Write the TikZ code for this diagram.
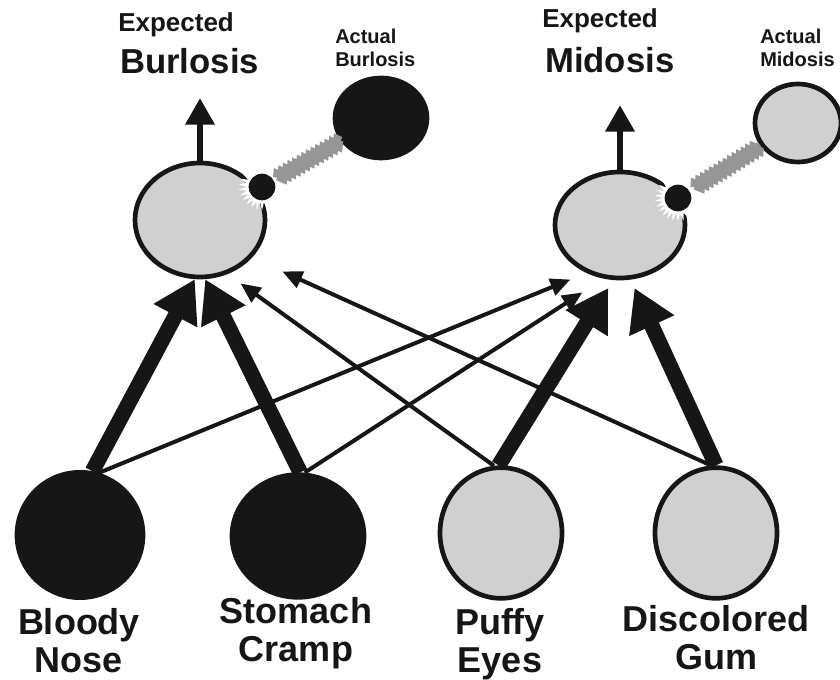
\documentclass[tikz,border=0pt]{standalone}
\usepackage{fontspec}
\setmainfont{Liberation Sans}
\usetikzlibrary{arrows.meta,shapes.geometric,decorations.pathmorphing}

\definecolor{inkblack}{RGB}{22,22,22}
\definecolor{paleoff}{RGB}{208,208,208}
\definecolor{bandgray}{RGB}{150,150,150}

\tikzset{
  blob/.style={ellipse,draw=inkblack,line width=3.5pt,inner sep=0pt},
  on/.style={blob,fill=inkblack},
  off/.style={blob,fill=paleoff},
  strong/.style={draw=inkblack,line width=11.5pt,-{Triangle[length=31pt,width=35pt]}},
  weak/.style={draw=inkblack,line width=3pt,-{Triangle[length=15pt,width=13pt]}},
  rise/.style={draw=inkblack,line width=5pt,-{Triangle[length=20pt,width=21pt]}},
  halo/.style={star,star points=26,star point ratio=1.5,fill=white,minimum size=35pt,inner sep=0pt},
  spark/.style={circle,fill=inkblack,minimum size=20pt,inner sep=0pt},
  band/.style={draw=bandgray,line width=7.5pt,decorate,decoration={zigzag,segment length=4pt,amplitude=1.4pt}},
  bigword/.style={font=\bfseries\fontsize{27}{28.5}\selectfont,align=center,anchor=north,inner sep=0pt,text=inkblack},
  headword/.style={font=\bfseries\fontsize{26}{28}\selectfont,anchor=north west,inner sep=0pt,text=inkblack},
  subword/.style={font=\bfseries\fontsize{19.5}{21}\selectfont,anchor=north west,inner sep=0pt,text=inkblack},
  tinyword/.style={font=\bfseries\fontsize{15}{17.25}\selectfont,align=left,anchor=north west,inner sep=0pt,text=inkblack}
}

\begin{document}
\begin{tikzpicture}[x=0.75pt,y=-0.75pt]

\useasboundingbox (0,0) rectangle (840,680);

% symptoms
\node[on,minimum width=94.5pt,minimum height=94pt] (nose) at (80,535) {};
\node[on,minimum width=99pt,minimum height=92pt] (cramp) at (298,536) {};
\node[off,minimum width=91.5pt,minimum height=98pt] (eyes) at (501,533) {};
\node[off,minimum width=91.5pt,minimum height=98pt] (gum) at (716,533) {};

% diseases
\node[off,minimum width=97.5pt,minimum height=85.5pt] (burl) at (200,220) {};
\node[off,minimum width=97.5pt,minimum height=79.5pt] (mido) at (620,225) {};
\node[on,minimum width=69pt,minimum height=60pt] (burlA) at (381,118) {};
\node[off,minimum width=64.5pt,minimum height=58.5pt] (midoA) at (798,123) {};

% labels
\node[bigword] (noseT) at (79,608) {Bloody\\Nose};
\node[bigword] (crampT) at (296,597) {Stomach\\Cramp};
\node[bigword] (eyesT) at (500,608) {Puffy\\Eyes};
\node[bigword] (gumT) at (716,605) {Discolored\\Gum};

\node[subword] (burlE) at (118,12) {Expected};
\node[headword] (burlN) at (120,48) {Burlosis};
\node[subword] (midoE) at (542,8) {Expected};
\node[headword] (midoN) at (545,47) {Midosis};
\node[tinyword] (burlAT) at (335,29) {Actual\\Burlosis};
\node[tinyword] (midoAT) at (760,29) {Actual\\Midosis};

% strong links
\draw[strong] (nose.79) -- (burl.-95);
\draw[strong] (cramp.88) -- (burl.-85);
\draw[strong,shorten >=7pt] (eyes.92) -- (mido.-97);
\draw[strong,shorten >=7pt] (gum.90) -- (mido.-79);

% weak links
\draw[weak,shorten >=13pt] (nose.73) -- (mido.-125);
\draw[weak,shorten >=19pt] (cramp.84) -- (mido.-107);
\draw[weak,shorten >=12pt] (eyes.96) -- (burl.-63);
\draw[weak,shorten >=25pt] (gum.94) -- (burl.-36);

% expected outputs
\coordinate (burlUp) at (200,98);
\coordinate (midoUp) at (620,105);
\draw[rise] (burl.north) -- (burlUp);
\draw[rise] (mido.north) -- (midoUp);

% error signals
\node[halo] (haloB) at (262,187) {};
\node[halo] (haloM) at (678,198) {};
\draw[band] (haloB) -- (burlA);
\draw[band] (haloM) -- (midoA);
\node[spark] (sparkB) at (262,187) {};
\node[spark] (sparkM) at (678,198) {};

\end{tikzpicture}
\end{document}
